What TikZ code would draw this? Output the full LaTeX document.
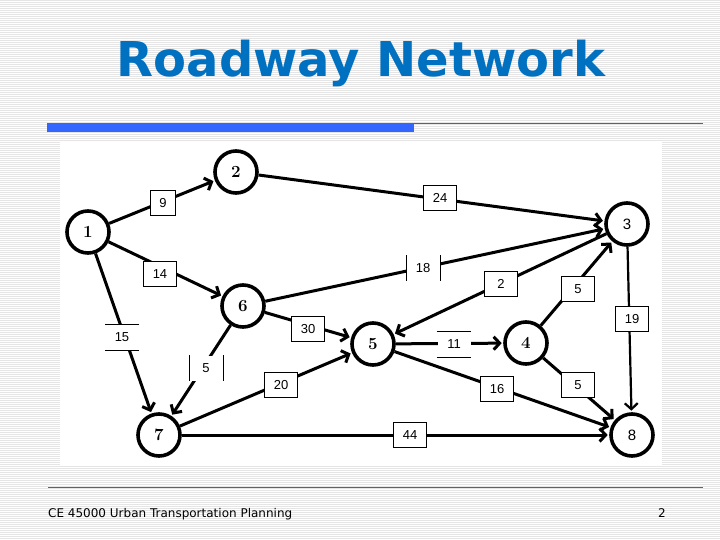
\documentclass[tikz,border=0pt]{standalone}
\usepackage{fontspec}
\newfontfamily\slidefont{DejaVu Sans}
\newfontfamily\lblfont{Liberation Sans}
\usetikzlibrary{arrows.meta, positioning, patterns.meta}
\definecolor{titleblue}{RGB}{0,112,192}
\definecolor{barblue}{RGB}{51,102,255}
\definecolor{rulecol}{RGB}{84,98,140}

\begin{document}
\begin{tikzpicture}[x=1pt, y=-1pt, every node/.style={font=\lblfont\fontsize{13}{15}\selectfont},
                    stn/.style={circle, draw, fill=white, line width=3.6pt, minimum size=42pt, inner sep=0pt,
                                font=\bfseries\fontsize{17}{19}\selectfont},
                    arr/.style={-{Straight Barb[length=6pt, width=13pt]}, line width=3pt, shorten >=1.5pt},
                    lbl/.style={fill=white, draw, line width=0.8pt, minimum width=33pt, minimum height=25pt, inner sep=0pt},
                    lblh/.style={lbl, draw=none, append after command={
                        (\tikzlastnode.north west) edge[draw, line width=0.8pt] (\tikzlastnode.north east)
                        (\tikzlastnode.south west) edge[draw, line width=0.8pt] (\tikzlastnode.south east)}},
                    lblv/.style={lbl, draw=none, append after command={
                        (\tikzlastnode.north west) edge[draw, line width=0.8pt] (\tikzlastnode.south west)
                        (\tikzlastnode.north east) edge[draw, line width=0.8pt] (\tikzlastnode.south east)}}]
    \useasboundingbox (0,0) rectangle (720,540);
    \fill[white] (0,0) rectangle (720,540);
    \fill[pattern={Lines[angle=0, distance=2pt, line width=0.6pt]}, pattern color=black!10] (0,0) rectangle (720,540);
    \fill[white] (60,142) rectangle (662,466);

    \node[font=\slidefont\bfseries\fontsize{48}{50}\selectfont, text=titleblue, anchor=base] (title) at (361,77) {Roadway Network};
    \fill[barblue] (47,123) rectangle (414,132);
    \draw[rulecol, line width=1pt] (414,124) -- (703,124);
    \draw[rulecol, line width=1pt] (48,487) -- (703,487);
    \node[font=\slidefont\fontsize{12}{14}\selectfont, anchor=base west, inner sep=0pt] (course) at (48,517) {CE 45000 Urban Transportation Planning};
    \node[font=\slidefont\fontsize{12}{14}\selectfont, anchor=base, inner sep=0pt] (page) at (662,517) {2};

    \node[stn] (n1) at (88,232) {1};
    \node[stn] (n2) at (236,172) {2};
    \node[stn, font=\lblfont\fontsize{15}{17}\selectfont] (n3) at (627,224) {3};
    \node[stn] (n4) at (526,343) {4};
    \node[stn] (n5) at (373,344) {5};
    \node[stn] (n6) at (243,306) {6};
    \node[stn] (n7) at (159,435) {7};
    \node[stn, font=\lblfont\fontsize{15}{17}\selectfont] (n8) at (632,435) {8};

    \draw[arr] (n1) -- (n2);
    \draw[arr] (n2) -- (n3);
    \draw[arr] (n1) -- (n6);
    \draw[arr] (n1) -- (n7);
    \draw[arr] (n6) -- (n3);
    \draw[arr] (n3) -- (n5);
    \draw[arr] (n4) -- (n3);
    \draw[arr, line width=2.2pt] (n3) -- (n8);
    \draw[arr] (n6) -- (n5);
    \draw[arr] (n6) -- (n7);
    \draw[arr] (n7) -- (n5);
    \draw[arr] (n5) -- (n4);
    \draw[arr] (n5) -- (n8);
    \draw[arr] (n4) -- (n8);
    \draw[arr] (n7) -- (n8);

    \node[lbl, minimum width=25pt] (w12) at (163,203) {9};
    \node[lbl] (w23) at (440,198) {24};
    \node[lbl] (w16) at (160,274) {14};
    \node[lblh] (w17) at (122,337) {15};
    \node[lblv] (w63) at (423,268) {18};
    \node[lbl] (w35) at (501,284) {2};
    \node[lbl] (w43) at (578,289) {5};
    \node[lbl] (w38) at (632,319) {19};
    \node[lbl] (w65) at (308,329) {30};
    \node[lblv] (w67) at (206,368) {5};
    \node[lbl] (w75) at (281,385) {20};
    \node[lblh] (w54) at (454,344) {11};
    \node[lbl] (w58) at (497,389) {16};
    \node[lbl] (w48) at (578,385) {5};
    \node[lbl] (w78) at (410,435) {44};
  \end{tikzpicture}
\end{document}
